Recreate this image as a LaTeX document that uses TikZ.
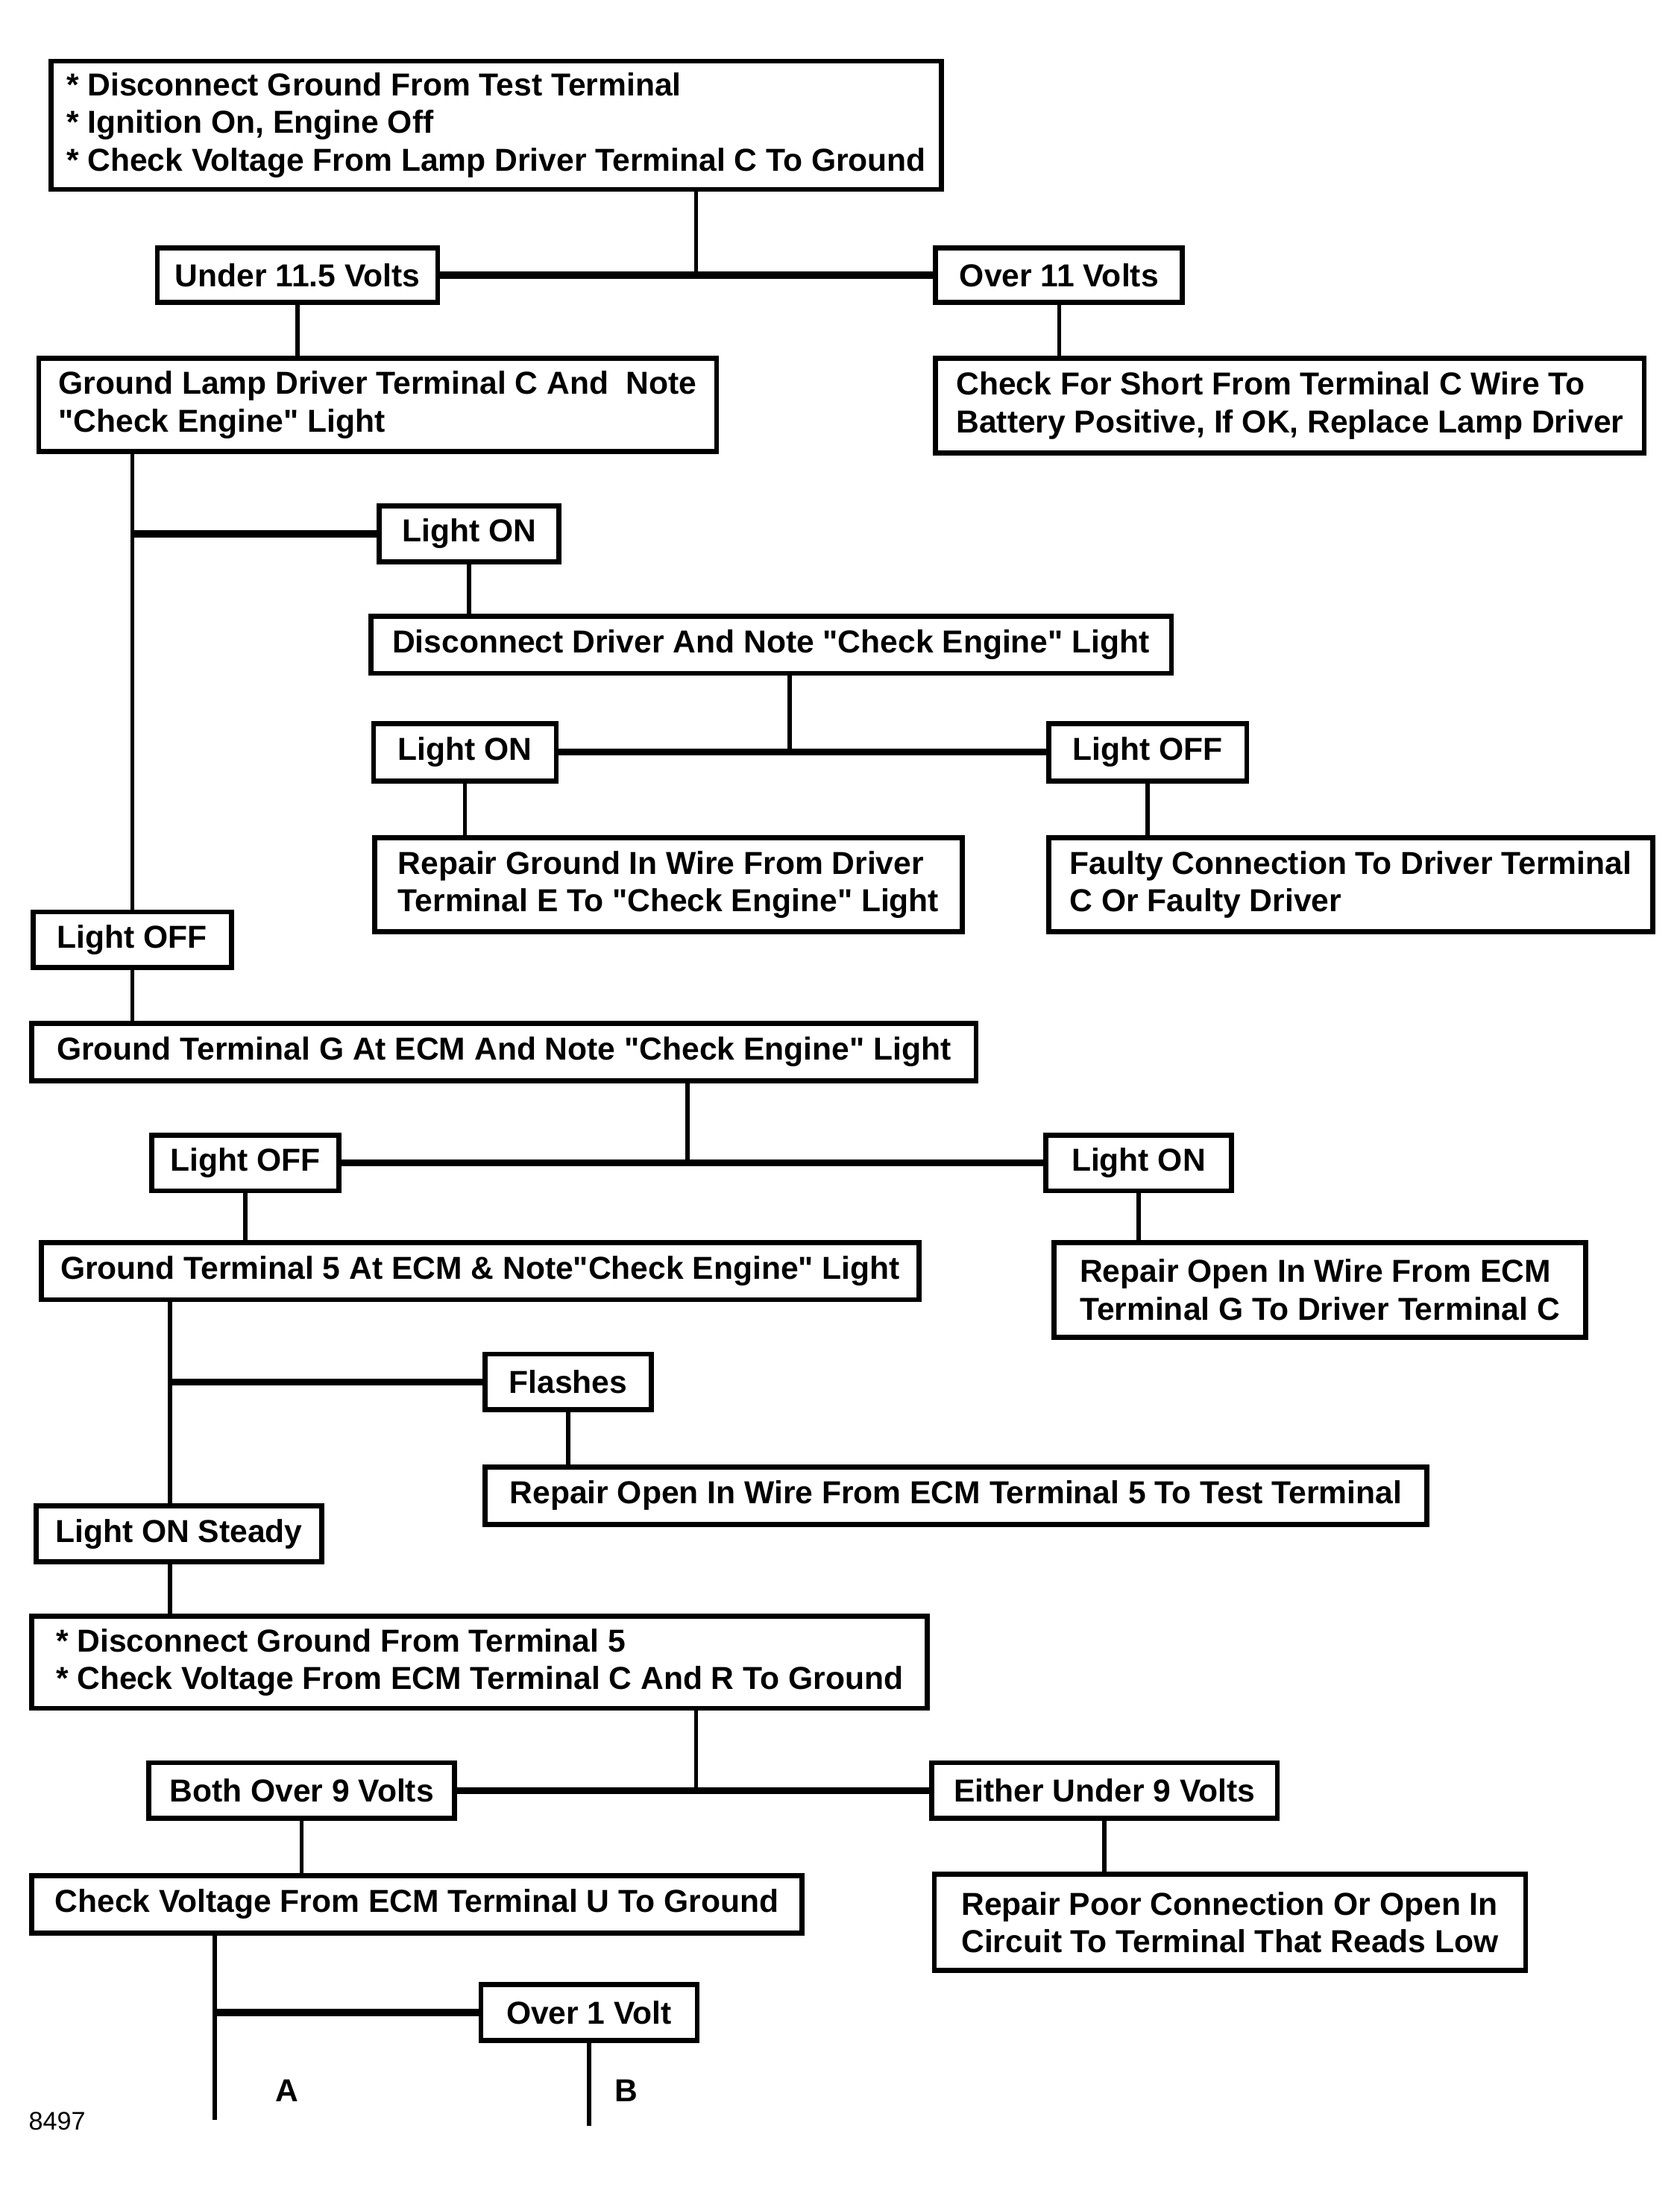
\documentclass[tikz,border=0pt]{standalone}
\usepackage{fontspec}
\setmainfont{Liberation Sans}
\usepackage{tikz}
\newcommand{\qt}{\textquotedbl}

\begin{document}
\begin{tikzpicture}[
      x=0.25mm, y=-0.25mm,
      font=\bfseries\fontsize{16.2pt}{19.2pt}\selectfont,
      box/.style={draw, fill=white, line width=0.9mm, anchor=north west, align=left, inner sep=0pt},
      link/.style={line width=0.75mm},
      branch/.style={line width=1.25mm},
]
\useasboundingbox (0,0) rectangle (1204,1568);

% first check
\node[box, minimum width=638*0.25mm, minimum height=92*0.25mm] (start) at (35,42) {* Disconnect Ground From Test Terminal\\* Ignition On, Engine Off\\* Check Voltage From Lamp Driver Terminal C To Ground};
\node[box, minimum width=201*0.25mm, minimum height=39*0.25mm] (under) at (111,176) {Under 11.5 Volts};
\node[box, minimum width=177*0.25mm, minimum height=39*0.25mm] (over) at (669,176) {Over 11 Volts};
\node[box, minimum width=486*0.25mm, minimum height=67*0.25mm] (gndc) at (26,255) {Ground Lamp Driver Terminal C And~ Note\\\qt Check Engine\qt{} Light};
\node[box, minimum width=508*0.25mm, minimum height=68*0.25mm] (short) at (669,255) {Check For Short From Terminal C Wire To\\Battery Positive, If OK, Replace Lamp Driver};
\coordinate (j_start) at (499,0);

\draw[link] (j_start |- start.south) -- (j_start |- under.east);
\draw[branch] (under.east) -- (over.west);
\draw[link] (under.south) -- (under.south |- gndc.north);
\draw[link] (over.south) -- (over.south |- short.north);

% lamp driver grounded
\node[box, minimum width=129*0.25mm, minimum height=40*0.25mm] (on_a) at (270,361) {Light ON};
\node[box, minimum width=574*0.25mm, minimum height=41*0.25mm] (disc) at (264,440) {Disconnect Driver And Note \qt Check Engine\qt{} Light};
\node[box, minimum width=131*0.25mm, minimum height=41*0.25mm] (on_b) at (266,517) {Light ON};
\node[box, minimum width=142*0.25mm, minimum height=41*0.25mm] (off_b) at (750,517) {Light OFF};
\node[box, minimum width=421*0.25mm, minimum height=67*0.25mm] (rep_gnd) at (267,599) {Repair Ground In Wire From Driver\\Terminal E To \qt Check Engine\qt{} Light};
\node[box, minimum width=433*0.25mm, minimum height=67*0.25mm] (faulty) at (750,599) {Faulty Connection To Driver Terminal\\C Or Faulty Driver};
\node[box, minimum width=142*0.25mm, minimum height=40*0.25mm] (off_a) at (22,652) {Light OFF};
\coordinate (j_disc) at (566,0);

\draw[link] (off_a.north) -- (off_a.north |- gndc.south);
\draw[branch] (on_a.west) -- (on_a.west -| off_a.north);
\draw[link] (on_a.south) -- (on_a.south |- disc.north);
\draw[link] (j_disc |- disc.south) -- (j_disc |- on_b.east);
\draw[branch] (on_b.east) -- (off_b.west);
\draw[link] (on_b.south) -- (on_b.south |- rep_gnd.north);
\draw[link] (off_b.south) -- (off_b.south |- faulty.north);

% terminal G
\node[box, minimum width=677*0.25mm, minimum height=41*0.25mm] (gndg) at (21,732) {Ground Terminal G At ECM And Note \qt Check Engine\qt{} Light};
\node[box, minimum width=134*0.25mm, minimum height=40*0.25mm] (off_c) at (107,812) {Light OFF};
\node[box, minimum width=133*0.25mm, minimum height=40*0.25mm] (on_c) at (748,812) {Light ON};
\node[box, minimum width=629*0.25mm, minimum height=41*0.25mm] (gnd5) at (28,889) {Ground Terminal 5 At ECM \& Note\qt Check Engine\qt{} Light};
\node[box, minimum width=381*0.25mm, minimum height=68*0.25mm] (rep_g) at (754,889) {Repair Open In Wire From ECM\\Terminal G To Driver Terminal C};
\coordinate (j_gndg) at (493,0);

\draw[link] (off_a.south) -- (off_a.south |- gndg.north);
\draw[link] (j_gndg |- gndg.south) -- (j_gndg |- off_c.east);
\draw[branch] (off_c.east) -- (on_c.west);
\draw[link] (off_c.south) -- (off_c.south |- gnd5.north);
\draw[link] (on_c.south) -- (on_c.south |- rep_g.north);

% terminal 5
\node[box, minimum width=119*0.25mm, minimum height=40*0.25mm] (flash) at (346,969) {Flashes};
\node[box, minimum width=675*0.25mm, minimum height=41*0.25mm] (rep_5) at (346,1050) {Repair Open In Wire From ECM Terminal 5 To Test Terminal};
\node[box, minimum width=205*0.25mm, minimum height=40*0.25mm] (steady) at (24,1078) {Light ON Steady};
\node[box, minimum width=642*0.25mm, minimum height=66*0.25mm] (disc5) at (21,1157) {* Disconnect Ground From Terminal 5\\* Check Voltage From ECM Terminal C And R To Ground};
\coordinate (t_gnd5) at (122,0);

\draw[link] (t_gnd5 |- gnd5.south) -- (t_gnd5 |- steady.north);
\draw[branch] (flash.west) -- (flash.west -| t_gnd5);
\draw[link] (flash.south) -- (flash.south |- rep_5.north);
\draw[link] (t_gnd5 |- steady.south) -- (t_gnd5 |- disc5.north);

% ECM supply
\node[box, minimum width=219*0.25mm, minimum height=40*0.25mm] (both) at (105,1262) {Both Over 9 Volts};
\node[box, minimum width=248*0.25mm, minimum height=40*0.25mm] (either) at (666,1262) {Either Under 9 Volts};
\node[box, minimum width=552*0.25mm, minimum height=41*0.25mm] (chk_u) at (21,1343) {Check Voltage From ECM Terminal U To Ground};
\node[box, minimum width=424*0.25mm, minimum height=69*0.25mm] (rep_poor) at (668,1342) {Repair Poor Connection Or Open In\\Circuit To Terminal That Reads Low};
\node[box, minimum width=155*0.25mm, minimum height=40*0.25mm] (over1) at (343,1421) {Over 1 Volt};
\coordinate (j_disc5) at (499,0);
\coordinate (end_a) at (154,1520);
\coordinate (end_b) at (420,1524);

\draw[link] (j_disc5 |- disc5.south) -- (j_disc5 |- both.east);
\draw[branch] (both.east) -- (either.west);
\draw[link] (both.south) -- (both.south |- chk_u.north);
\draw[link] (either.south) -- (either.south |- rep_poor.north);
\draw[link] (end_a |- chk_u.south) -- (end_a);
\draw[branch] (over1.west) -- (over1.west -| end_a);
\draw[link] (over1.south) -- (over1.south |- end_b);

\node (lbl_a) at (206,1499) {A};
\node (lbl_b) at (449,1499) {B};
\node[font=\fontsize{13pt}{15pt}\selectfont] (fig_no) at (41,1521) {8497};

\end{tikzpicture}
\end{document}
